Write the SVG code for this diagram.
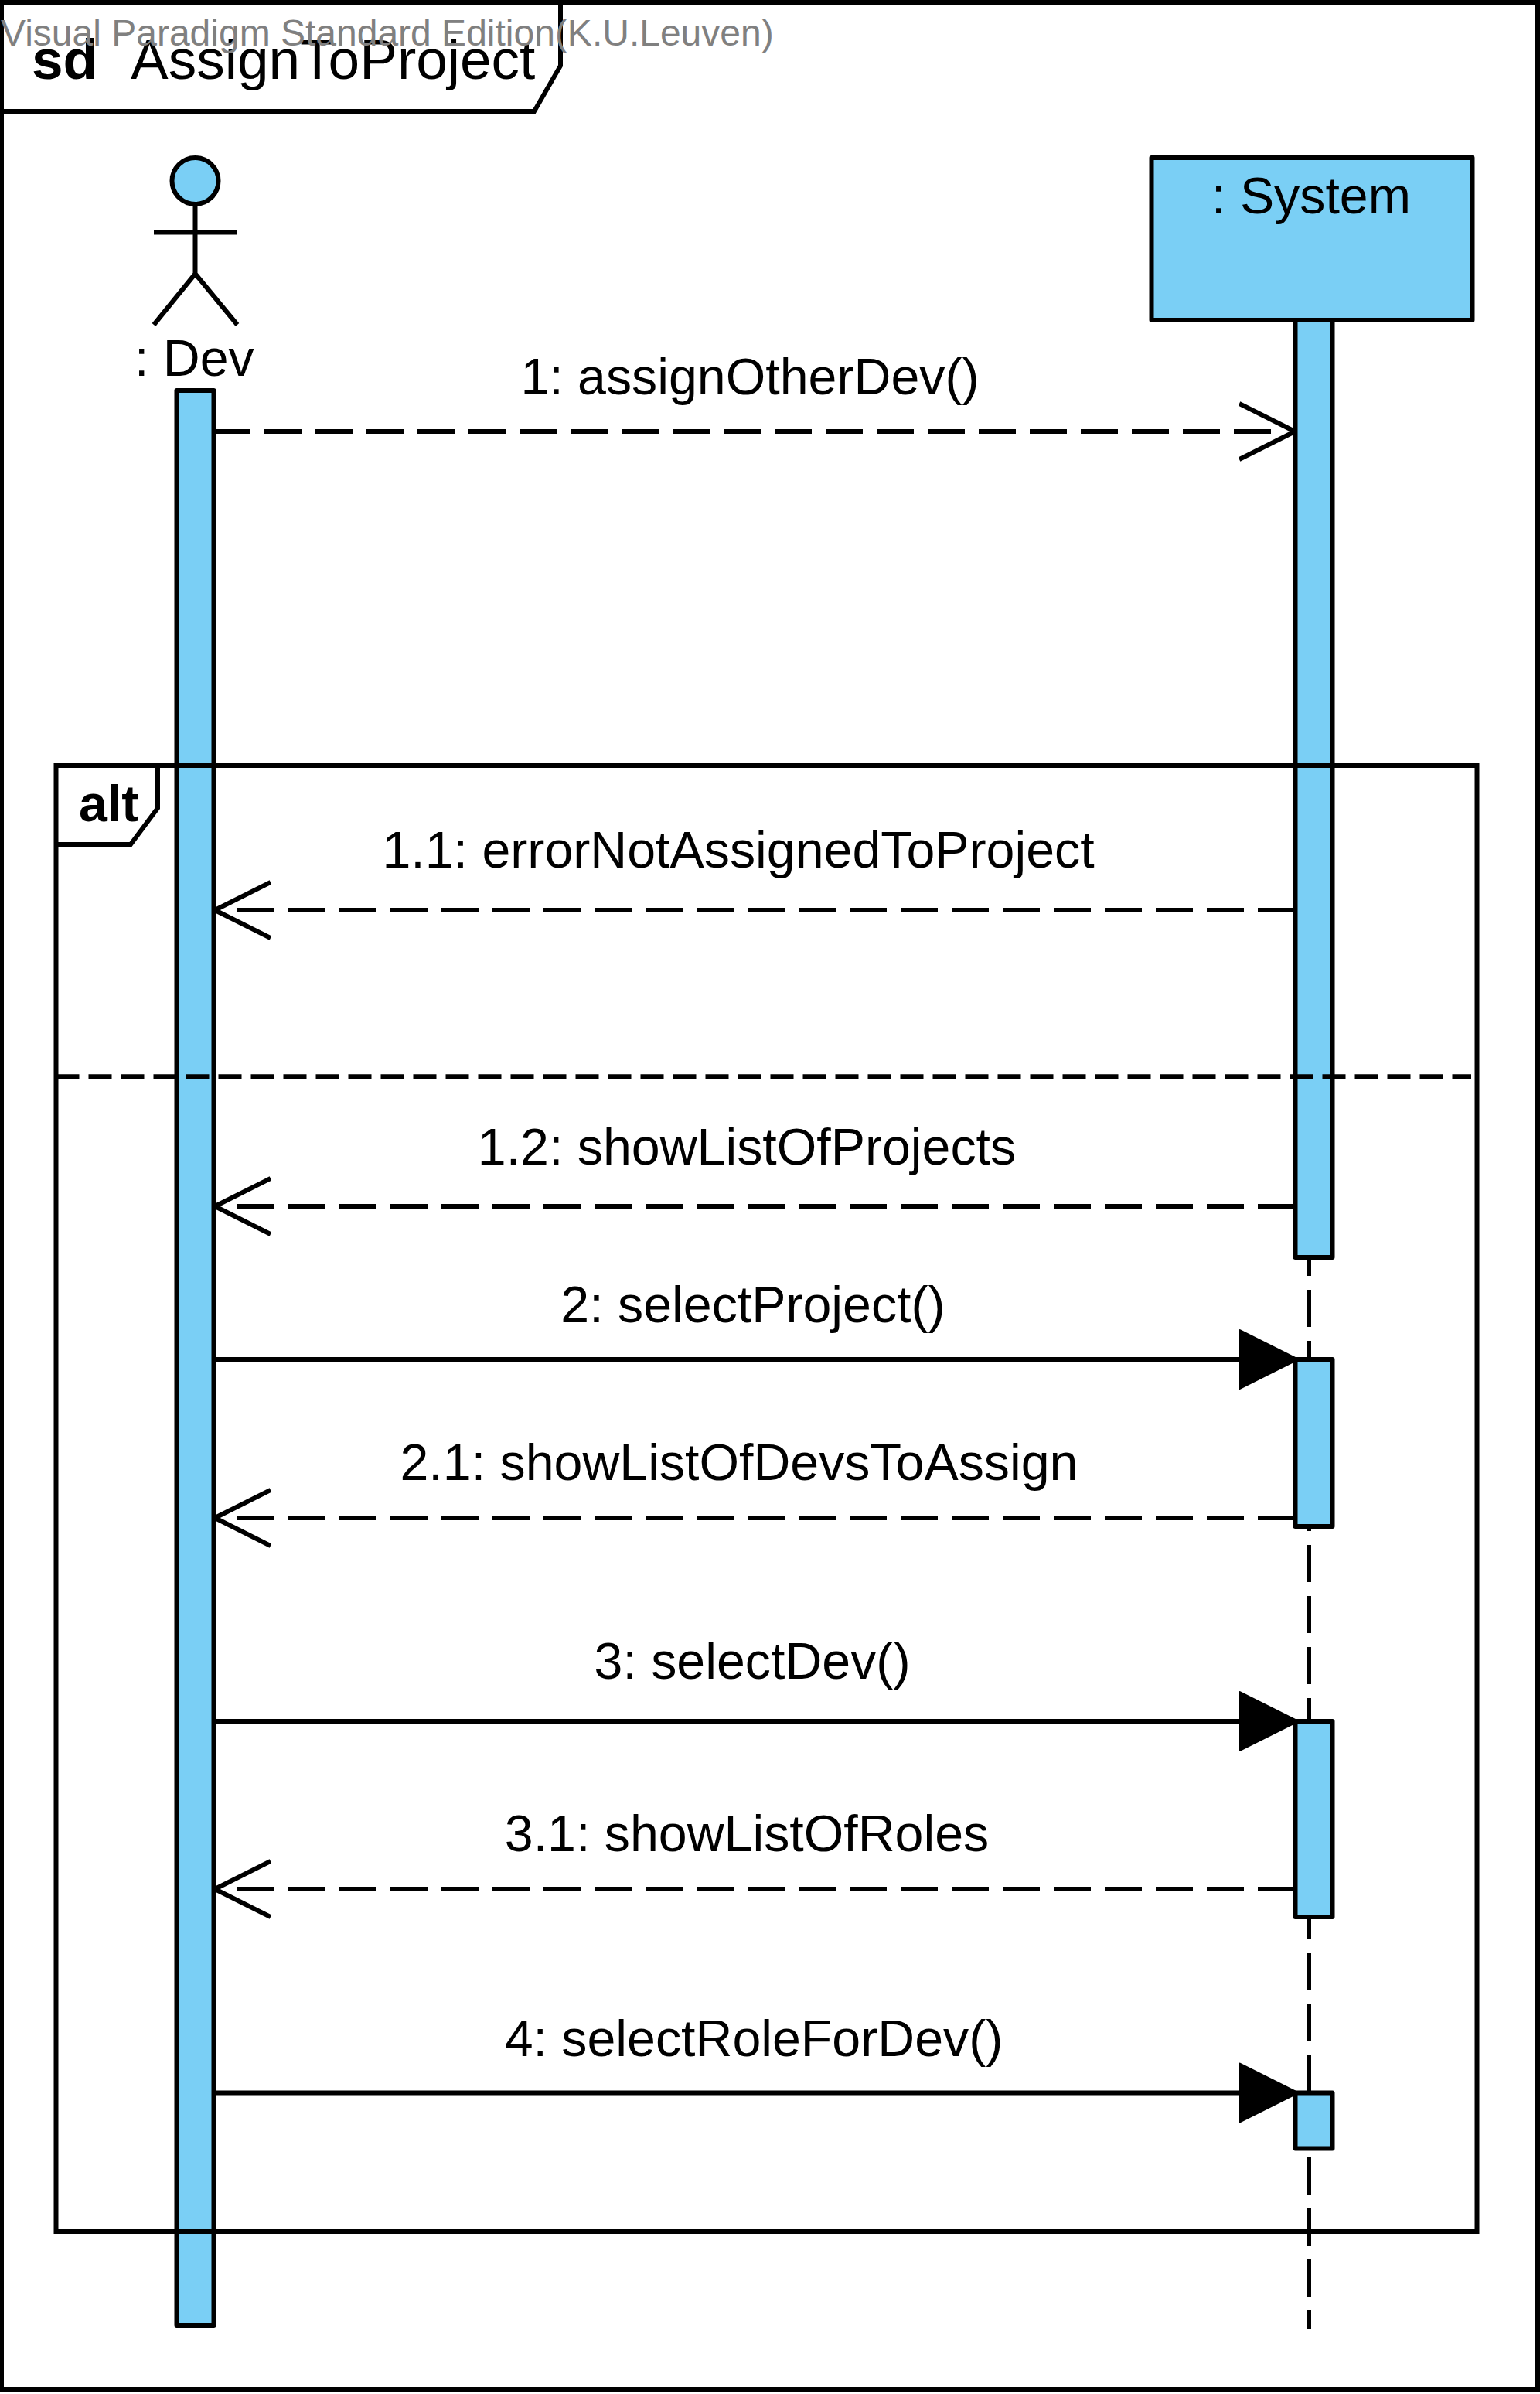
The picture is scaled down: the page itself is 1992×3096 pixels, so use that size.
<svg xmlns="http://www.w3.org/2000/svg" width="1992" height="3096" viewBox="0 0 1992 3096">
<style>
text{font-family:"Liberation Sans",Arial,sans-serif;font-size:66.3px;fill:#000}
.lab{text-anchor:middle}
.bar{fill:#7ACFF5;stroke:#000;stroke-width:6;stroke-linejoin:round}
.ln{fill:none;stroke:#000;stroke-width:6}
.d{stroke-dasharray:48 18}
</style>
<defs>
<marker id="open" markerUnits="userSpaceOnUse" markerWidth="90" markerHeight="90" refX="47" refY="40" orient="auto" viewBox="0 0 90 90"><path d="M0 4L72 40L0 76" fill="none" stroke="#000" stroke-width="6" stroke-linejoin="bevel"/></marker>
<marker id="solid" markerUnits="userSpaceOnUse" markerWidth="90" markerHeight="90" refX="72" refY="40" orient="auto" viewBox="0 0 90 90"><path d="M0 4L72 40L0 76Z" fill="#000" stroke="#000" stroke-width="6" stroke-linejoin="round"/></marker>
</defs>
<rect width="1992" height="3096" fill="#fff"/>
<g id="frame">
<rect class="ln" x="2" y="3" width="1987" height="3087"/>
<path class="ln" d="M2 144H691L725 85V3"/>
<text x="41" y="102" style="font-size:73px;font-weight:bold">sd</text>
<text x="169" y="102" style="font-size:73px">AssignToProject</text>
</g>
<g id="lifeline-system"><line class="ln" x1="1693" y1="414" x2="1693" y2="3012" stroke-dasharray="48 18"/></g>
<g id="actor-dev">
<circle class="bar" cx="252.500" cy="234" r="30"/>
<path class="ln" d="M252.500 265V354M199 300.500H307M199 420L252.500 354L307 420"/>
<text x="174" y="486">: Dev</text>
<rect class="bar" x="228.500" y="505" width="48" height="2502"/>
</g>
<g id="object-system">
<rect class="bar" x="1489.500" y="204" width="415" height="210"/>
<text class="lab" x="1696" y="276">: System</text>
</g>
<g id="activations">
<rect class="bar" x="1675.500" y="414" width="48" height="1212"/>
<rect class="bar" x="1675.500" y="1758" width="48" height="216"/>
<rect class="bar" x="1675.500" y="2226" width="48" height="253"/>
<rect class="bar" x="1675.500" y="2706.500" width="48" height="72"/>
</g>
<g id="connectors">
<line class="ln d" x1="276" y1="558" x2="1650" y2="558" marker-end="url(#open)"/>
<line class="ln d" x1="1675" y1="1177" x2="303" y2="1177" marker-end="url(#open)"/>
<line class="ln d" x1="1675" y1="1560" x2="303" y2="1560" marker-end="url(#open)"/>
<line class="ln" x1="276" y1="1758" x2="1675" y2="1758" marker-end="url(#solid)"/>
<line class="ln d" x1="1675" y1="1963" x2="303" y2="1963" marker-end="url(#open)"/>
<line class="ln" x1="276" y1="2226" x2="1675" y2="2226" marker-end="url(#solid)"/>
<line class="ln d" x1="1675" y1="2443" x2="303" y2="2443" marker-end="url(#open)"/>
<line class="ln" x1="276" y1="2706.500" x2="1675" y2="2706.500" marker-end="url(#solid)"/>
</g>
<g id="alt">
<rect class="ln" x="72.500" y="990" width="1838" height="1896"/>
<path class="ln" d="M72.500 1092H169L204 1045V990"/>
<path class="ln" stroke-dasharray="30 12" d="M72.500 1392.300H1903"/>
<text x="102" y="1062" style="font-weight:bold">alt</text>
</g>
<g id="labels">
<text class="lab" x="970" y="510">1: assignOtherDev()</text>
<text class="lab" x="955" y="1122">1.1: errorNotAssignedToProject</text>
<text class="lab" x="966" y="1506">1.2: showListOfProjects</text>
<text class="lab" x="974" y="1710">2: selectProject()</text>
<text class="lab" x="956" y="1914">2.1: showListOfDevsToAssign</text>
<text class="lab" x="973" y="2171">3: selectDev()</text>
<text class="lab" x="966" y="2394">3.1: showListOfRoles</text>
<text class="lab" x="975" y="2659">4: selectRoleForDev()</text>
</g>
<text id="watermark" x="1" y="59" style="font-size:48px;fill:#808080">Visual Paradigm Standard Edition(K.U.Leuven)</text>
</svg>
